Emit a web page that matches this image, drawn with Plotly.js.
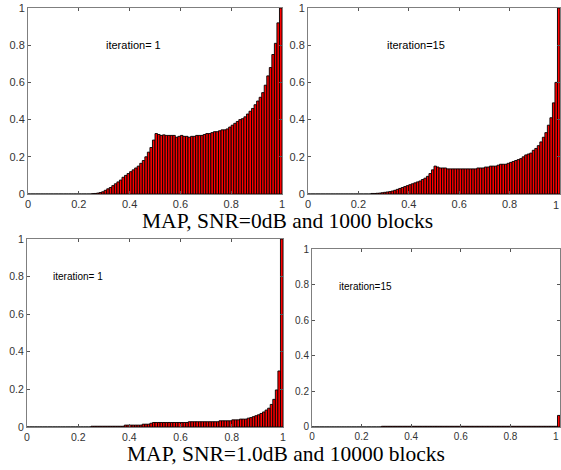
<!DOCTYPE html>
<html>
<head>
<meta charset="utf-8">
<script src="https://cdn.plot.ly/plotly-3.0.1.min.js"></script>
<style>html,body{margin:0;padding:0;background:#fff;}#chart{width:561px;height:470px;}</style>
</head>
<body>
<div id="chart"></div>
<script>
// Histogram bins: 100 bins of width 0.01 on [0,1]
var binWidth = 0.01;
var binCenters = [];
for (var i = 0; i < 100; i++) binCenters.push(+(0.005 + i * binWidth).toFixed(3));

// MAP, SNR=0dB, 1000 blocks, iteration 1
var snr0_it1 = [
 0,0,0,0,0,0,0,0,0,0, 0,0,0,0,0,0,0,0,0,0, 0,0,0,0,0,
 0.002,0.003,0.005,0.008,0.012,0.02,0.028,0.035,0.045,0.055,
 0.065,0.075,0.09,0.10,0.11,0.12,0.13,0.14,0.15,0.165,
 0.18,0.2,0.225,0.25,0.29,0.325,0.32,0.315,0.318,0.315,
 0.315,0.315,0.315,0.305,0.31,0.315,0.31,0.31,0.305,0.31,
 0.31,0.315,0.315,0.315,0.32,0.325,0.325,0.33,0.335,0.335,
 0.34,0.345,0.345,0.35,0.36,0.37,0.38,0.39,0.40,0.405,
 0.415,0.43,0.445,0.46,0.48,0.50,0.52,0.545,0.585,0.635,
 0.68,0.75,0.81,0.92,1.0
];
// MAP, SNR=0dB, 1000 blocks, iteration 15
var snr0_it15 = [
 0,0,0,0,0,0,0,0,0,0, 0,0,0,0,0,0,0,0,0,0, 0,0,0,0,0,
 0.003,0.003,0.004,0.005,0.007,0.009,0.011,0.013,0.016,0.02,
 0.025,0.03,0.035,0.04,0.045,0.05,0.055,0.06,0.065,0.07,
 0.078,0.085,0.095,0.11,0.13,0.15,0.145,0.14,0.14,0.14,
 0.135,0.135,0.135,0.135,0.135,0.135,0.135,0.135,0.135,0.135,
 0.135,0.135,0.14,0.14,0.14,0.145,0.145,0.15,0.15,0.15,
 0.155,0.16,0.16,0.16,0.165,0.17,0.175,0.18,0.185,0.19,
 0.20,0.21,0.215,0.22,0.235,0.245,0.26,0.28,0.305,0.33,
 0.37,0.41,0.49,0.60,1.0
];
// MAP, SNR=1.0dB, 10000 blocks, iteration 1
var snr1_it1 = [
 0,0,0,0,0,0,0,0,0,0, 0,0,0,0,0,0,0,0,0,0, 0,0,0,0,0,
 0.004,0.004,0.004,0.004,0.004,0.004,0.004,0.004,0.004,0.004,
 0.004,0.004,0.004,0.01,0.01,0.01,0.01,0.01,0.01,0.01,
 0.015,0.015,0.015,0.02,0.024,0.024,0.024,0.024,0.024,0.024,
 0.024,0.024,0.024,0.024,0.024,0.024,0.024,0.024,0.028,0.028,
 0.028,0.028,0.028,0.028,0.028,0.028,0.028,0.028,0.028,0.028,
 0.033,0.033,0.033,0.033,0.033,0.038,0.038,0.038,0.042,0.042,
 0.042,0.047,0.05,0.055,0.06,0.065,0.072,0.08,0.09,0.10,
 0.12,0.147,0.197,0.298,1.0
];
// MAP, SNR=1.0dB, 10000 blocks, iteration 15
var snr1_it15 = [
 0,0,0,0,0,0,0,0,0,0, 0,0,0,0,0,0,0,0,0,0, 0,0,0,0,0,
 0,0,0,0.004,0.004,0.004,0.004,0.004,0.004,0.004,
 0.004,0.004,0.004,0.004,0.004,0.004,0.004,0.004,0.004,0.004,
 0.004,0.004,0.004,0.004,0.004,0.004,0.004,0.004,0.004,0.004,
 0.004,0.004,0.004,0.004,0.004,0.004,0.004,0.004,0.004,0.004,
 0.004,0.004,0.004,0.004,0.004,0.004,0.004,0.004,0.004,0.004,
 0.004,0.004,0.004,0.004,0.004,0.004,0.004,0.004,0.004,0.004,
 0.004,0.004,0.004,0.004,0.004,0.004,0.004,0.004,0.004,0.004,
 0.004,0.004,0.004,0.004,0.065
];

var panelLabels = ['iteration= 1', 'iteration=15', 'iteration= 1', 'iteration=15'];
var groupTitles = ['MAP, SNR=0dB and 1000 blocks', 'MAP, SNR=1.0dB and 10000 blocks'];
var tickVals = [0, 0.2, 0.4, 0.6, 0.8, 1];
var tickText = ['0', '0.2', '0.4', '0.6', '0.8', '1'];

var series = [snr0_it1, snr0_it15, snr1_it1, snr1_it15];
var axisIds = [['x','y'],['x2','y2'],['x3','y3'],['x4','y4']];

var traces = series.map(function(vals, k){
  return {
    type: 'bar', x: binCenters, y: vals, width: binWidth,
    xaxis: axisIds[k][0], yaxis: axisIds[k][1],
    marker: {color: '#ff0000', line: {color: '#000000', width: 0.9}},
    hoverinfo: 'skip', showlegend: false
  };
});

function ax(domain, anchor, fontSize) {
  return {
    domain: domain, anchor: anchor, range: [0, 1],
    tickvals: tickVals, ticktext: tickText,
    ticks: 'inside', ticklen: 3, tickcolor: '#555', tickwidth: 1,
    showline: true, linecolor: '#7f7f7f', linewidth: 1, mirror: 'ticks',
    showgrid: false, zeroline: false, fixedrange: true,
    tickfont: {family: 'Liberation Sans, Arial, sans-serif', size: fontSize, color: '#333'}
  };
}

var tickFontFamily = 'Liberation Sans, Arial, sans-serif';

var layout = {
  width: 561, height: 470,
  margin: {l: 0, r: 0, t: 0, b: 0},
  paper_bgcolor: '#ffffff', plot_bgcolor: '#ffffff',
  bargap: 0, showlegend: false,
  xaxis:  ax([0.0499, 0.5027], 'y', 11),
  yaxis:  ax([0.5872, 0.983], 'x', 11),
  xaxis2: ax([0.549, 0.9982], 'y2', 11),
  yaxis2: ax([0.5872, 0.983], 'x2', 11),
  xaxis3: ax([0.0481, 0.5045], 'y3', 10.5),
  yaxis3: ax([0.0915, 0.4915], 'x3', 10.5),
  xaxis4: ax([0.5561, 0.9982], 'y4', 10),
  yaxis4: ax([0.0915, 0.4702], 'x4', 10),
  annotations: [
    {text: panelLabels[0], xref: 'x', yref: 'y', x: 0.30, y: 0.80, xanchor: 'left', yanchor: 'middle', showarrow: false,
     font: {family: tickFontFamily, size: 11, color: '#000'}},
    {text: panelLabels[1], xref: 'x2', yref: 'y2', x: 0.305, y: 0.80, xanchor: 'left', yanchor: 'middle', showarrow: false,
     font: {family: tickFontFamily, size: 11, color: '#000'}},
    {text: panelLabels[2], xref: 'x3', yref: 'y3', x: 0.095, y: 0.80, xanchor: 'left', yanchor: 'middle', showarrow: false,
     font: {family: tickFontFamily, size: 10, color: '#000'}},
    {text: panelLabels[3], xref: 'x4', yref: 'y4', x: 0.10, y: 0.79, xanchor: 'left', yanchor: 'middle', showarrow: false,
     font: {family: tickFontFamily, size: 10, color: '#000'}},
    // right-edge "1" tick labels, kept just inside the page edge
    {text: tickText[5], xref: 'x2', yref: 'y2', x: 1, y: 0, yshift: -11, xshift: 1, xanchor: 'right', yanchor: 'middle', showarrow: false,
     font: {family: tickFontFamily, size: 11, color: '#333'}},
    {text: tickText[5], xref: 'x4', yref: 'y4', x: 1, y: 0, yshift: -10, xshift: 1, xanchor: 'right', yanchor: 'middle', showarrow: false,
     font: {family: tickFontFamily, size: 10, color: '#333'}},
    {text: groupTitles[0], xref: 'paper', yref: 'paper', x: 0.512, y: 1 - 221/470, xanchor: 'center', yanchor: 'middle', showarrow: false,
     font: {family: 'Liberation Serif, Times New Roman, serif', size: 21.5, color: '#000'}},
    {text: groupTitles[1], xref: 'paper', yref: 'paper', x: 0.51, y: 1 - 454/470, xanchor: 'center', yanchor: 'middle', showarrow: false,
     font: {family: 'Liberation Serif, Times New Roman, serif', size: 21.5, color: '#000'}}
  ]
};

Plotly.newPlot('chart', traces, layout, {staticPlot: true, displayModeBar: false});
</script>
</body>
</html>
